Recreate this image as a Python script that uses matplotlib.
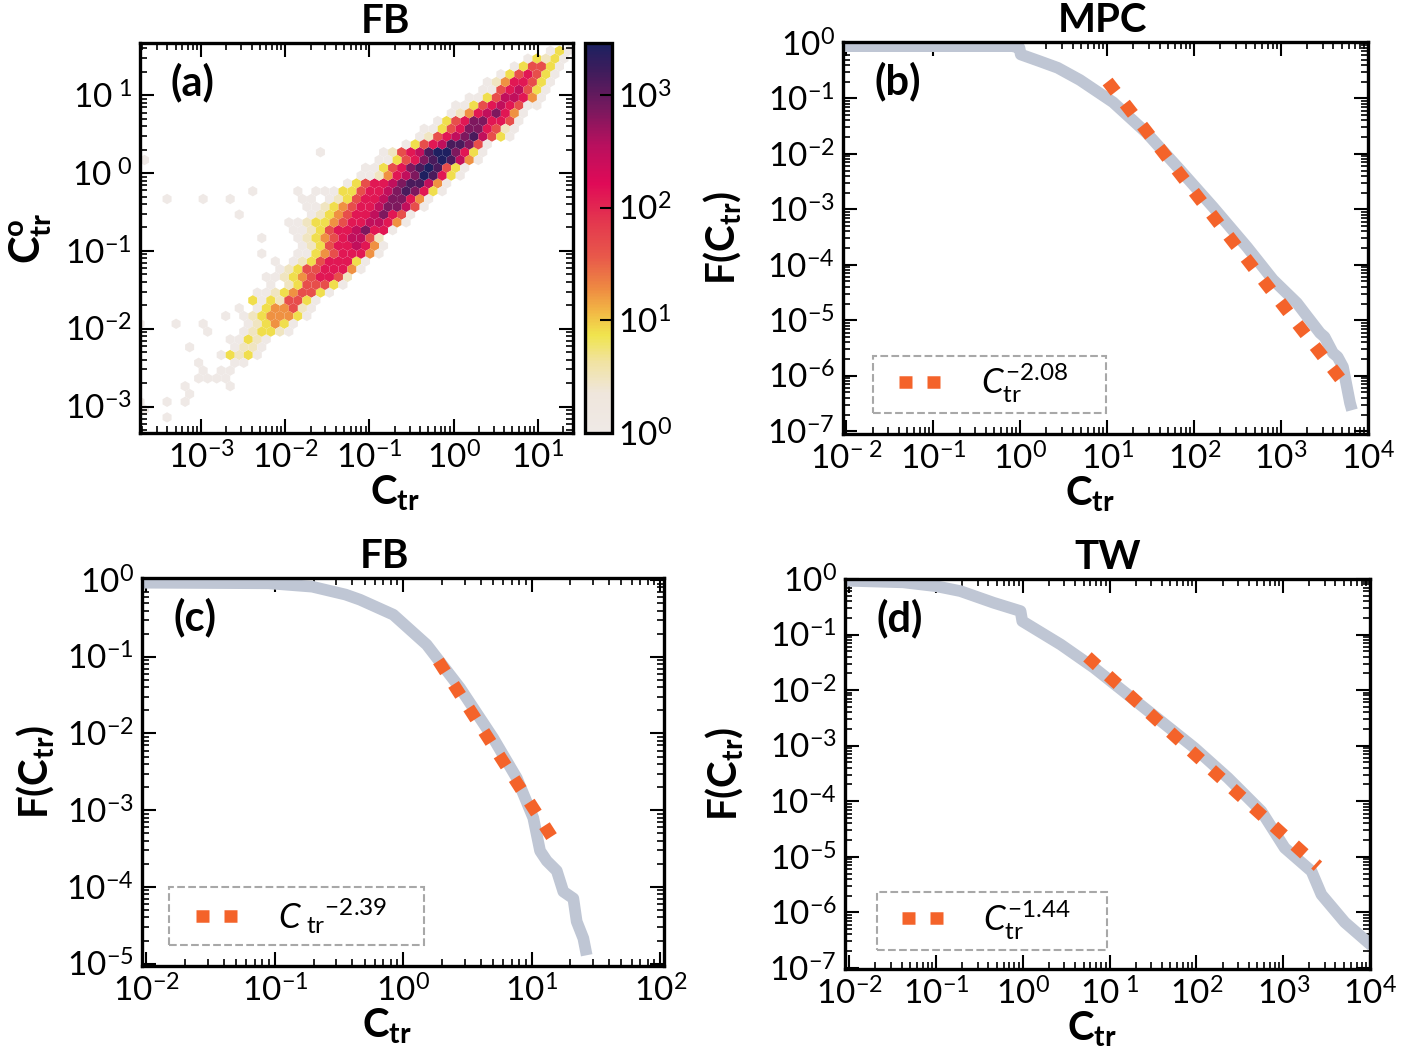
import numpy as np
import matplotlib
matplotlib.use('Agg')
import matplotlib.pyplot as plt
from matplotlib.colors import LinearSegmentedColormap, LogNorm
from matplotlib.patches import Rectangle
from matplotlib.ticker import LogLocator, FuncFormatter, NullFormatter, NullLocator

plt.rcParams['font.family'] = ['Lato', 'DejaVu Sans']
plt.rcParams['mathtext.fontset'] = 'custom'
plt.rcParams['mathtext.rm'] = 'Lato'
plt.rcParams['mathtext.it'] = 'Lato:italic'
plt.rcParams['mathtext.bf'] = 'Lato:bold'

# ---------------- data ----------------
# (a) hexbin of C_tr vs C^o_tr, read cell by cell.
# level digit -> count in the cell, '0' = empty cell
level_counts = {'1': 1, '2': 3, '3': 8, '4': 18, '5': 45, '6': 130,
                '7': 300, '8': 700, '9': 1400, 'a': 2700}
# (hex row from the bottom, first hex column, levels of consecutive cells)
hex_rows = [
    (0, 0, "1"),
    (2, 3, "1"),
    (3, 0, "1"),
    (4, 0, "100101"),
    (5, 5, "1"),
    (6, 5, "100001"),
    (7, 6, "1111"),
    (8, 7, "1011"),
    (9, 6, "100011"),
    (10, 9, "13231"),
    (11, 5, "100001221"),
    (12, 10, "11321"),
    (13, 7, "1000123321"),
    (14, 0, "100010010000123431"),
    (15, 9, "1012344431"),
    (16, 11, "101344521"),
    (17, 12, "31325531"),
    (18, 13, "112345531"),
    (19, 14, "102355531"),
    (20, 14, "1123456652"),
    (21, 15, "1235566641"),
    (22, 15, "10123566631"),
    (23, 13, "10001134566641"),
    (24, 18, "1235667641"),
    (25, 13, "10001234567752"),
    (26, 17, "112356678661"),
    (27, 16, "11233456677641"),
    (28, 11, "10000000123456678651"),
    (29, 18, "11234566788751"),
    (30, 3, "100010010000000110123566788641"),
    (31, 12, "1000010111335667898631"),
    (32, 23, "135667899741"),
    (33, 24, "1124678a9631"),
    (34, 25, "1135689a9531"),
    (35, 0, "1"),
    (35, 26, "1135689a9741"),
    (36, 20, "1000000125679aa8631"),
    (37, 29, "1356799851"),
    (38, 31, "12567897531"),
    (39, 31, "11356886521"),
    (40, 33, "1356886651"),
    (41, 34, "124678641"),
    (42, 35, "1135676511"),
    (43, 36, "113577641"),
    (44, 38, "11567531"),
    (45, 38, "12466531"),
    (46, 40, "1356531"),
    (47, 41, "135531"),
    (48, 43, "13231"),
    (49, 45, "131"),
]

# (b) MPC: CCDF (log10 values) and power-law fit ends
mpc_logc = [-2.04, -0.09, -0.01, 0.005, 0.22, 0.43, 0.686, 1.066, 1.457, 1.837, 2.217,
            2.608, 2.907, 3.183, 3.30, 3.448, 3.50, 3.597, 3.65, 3.712, 3.793, 3.816]
mpc_logf = [-0.06, -0.06, -0.09, -0.21, -0.33, -0.45, -0.67, -1.07, -1.63, -2.29, -2.96,
            -3.68, -4.27, -4.69, -4.93, -5.23, -5.30, -5.59, -5.66, -5.84, -6.49, -6.62]
mpc_fit_logc = [1.004, 3.686]
mpc_fit_logf = [-0.698, -6.062]

# (c) FB
fb_logc = [-2.035, -1.05, -0.71, -0.45, -0.337, -0.078, 0.182, 0.442, 0.70, 0.883, 1.012,
           1.065, 1.117, 1.195, 1.246, 1.324, 1.35, 1.402, 1.428]
fb_logf = [-0.035, -0.043, -0.087, -0.19, -0.257, -0.452, -0.843, -1.408, -2.06, -2.58, -3.10,
           -3.53, -3.66, -3.79, -4.06, -4.15, -4.45, -4.67, -4.89]
fb_fit_logc = [0.273, 1.157]
fb_fit_logf = [-1.054, -3.351]

# (d) TW
tw_logc = [-2.05, -1.38, -1.0, -0.72, -0.335, -0.027, -0.007, 0.436, 0.821, 1.207, 1.592,
           1.977, 2.363, 2.748, 3.017, 3.326, 3.44, 3.71, 4.02]
tw_logf = [-0.03, -0.06, -0.13, -0.218, -0.429, -0.578, -0.759, -1.18, -1.60, -2.08, -2.56,
           -3.04, -3.58, -4.18, -4.84, -5.26, -5.68, -6.18, -6.60]
tw_fit_logc = [0.744, 3.40]
tw_fit_logf = [-1.401, -5.17]

# ---------------- styles ----------------
GRAY = '#bfc6d4'
ORANGE = '#f4632a'
cmap = LinearSegmentedColormap.from_list('heat', [
    (0.00, '#efe9e6'), (0.10, '#efe6dc'), (0.18, '#f1e3a2'), (0.25, '#f0e44e'),
    (0.31, '#f2b845'), (0.37, '#ee8a42'), (0.45, '#e8594a'), (0.55, '#e3344f'),
    (0.64, '#e00a57'), (0.74, '#b8105e'), (0.84, '#73195e'), (0.93, '#3e1c5c'),
    (1.00, '#1b2160')])

fig = plt.figure(figsize=(14.01, 10.52), dpi=100)
W, H = 1401, 1052


def box(l, r, t, b):
    return [l / W, 1 - b / H, (r - l) / W, (b - t) / H]


ax_a = fig.add_axes(box(140, 573, 43, 433))
cax = fig.add_axes(box(585, 612, 43, 433))
ax_b = fig.add_axes(box(843, 1368, 42, 434))
ax_c = fig.add_axes(box(142, 664, 578, 966))
ax_d = fig.add_axes(box(845, 1370, 579, 969))


def fmt_plain(v, pos):
    e = int(round(np.log10(v)))
    return r'$10^{%d}$' % e


def fmt_a_y(v, pos):
    e = int(round(np.log10(v)))
    if e >= 0:
        return r'$10^{\ %d}$' % e
    return r'$10^{%d}$' % e


def fmt_b_x(v, pos):
    e = int(round(np.log10(v)))
    if e == -2:
        return r'$10^{-\ 2}$'
    return r'$10^{%d}$' % e


def fmt_d_x(v, pos):
    e = int(round(np.log10(v)))
    if e == 1:
        return r'$10^{\ 1}$'
    return r'$10^{%d}$' % e


def style(ax, xfmt=fmt_plain, yfmt=fmt_plain):
    for ax_ in (ax.xaxis, ax.yaxis):
        ax_.set_major_locator(LogLocator(base=10, numticks=20))
        ax_.set_minor_locator(LogLocator(base=10, subs=np.arange(2, 10), numticks=20))
        ax_.set_minor_formatter(NullFormatter())
    ax.xaxis.set_major_formatter(FuncFormatter(xfmt))
    ax.yaxis.set_major_formatter(FuncFormatter(yfmt))
    ax.tick_params(which='both', direction='in', top=True, right=True, labelsize=24)
    ax.tick_params(which='major', length=10, width=1.5, pad=6)
    ax.tick_params(which='minor', length=5, width=1.2)
    for s in ax.spines.values():
        s.set_linewidth(2.4)


# ---------------- (a) hexbin ----------------
X0, X1, Y0, Y1 = -3.724, 1.418, -3.34, 1.672
NX, NY = 48, 25
SX = (X1 - X0) / NX
SY = (Y1 - Y0) / NY
hx, hy, hc = [], [], []
for k, i0, levels in hex_rows:
    for n, ch in enumerate(levels):
        if ch == '0':
            continue
        i = i0 + n
        hx.append(10 ** (X0 + (i + 0.5 * (k % 2)) * SX))
        hy.append(10 ** (Y0 + k * SY / 2))
        hc.append(level_counts[ch])

hb = ax_a.hexbin(hx, hy, C=hc, reduce_C_function=np.sum, gridsize=(NX, NY),
                 xscale='log', yscale='log', extent=(X0, X1, Y0, Y1),
                 cmap=cmap, norm=LogNorm(vmin=1, vmax=2900), linewidths=0)
ax_a.set_xlim(10 ** X0, 10 ** X1)
ax_a.set_ylim(10 ** Y0, 10 ** Y1)
style(ax_a, yfmt=fmt_a_y)
ax_a.set_title('FB', fontsize=29, fontweight='bold', x=0.566, pad=7)
ax_a.set_xlabel(r'$\mathbf{C_{tr}}$', fontsize=29)
ax_a.set_ylabel(r'$\mathbf{C^{o}_{tr}}$', fontsize=30)
ax_a.xaxis.set_label_coords(0.59, -0.105)
ax_a.yaxis.set_label_coords(-0.2, 0.5)
ax_a.text(0.07, 0.95, '(a)', transform=ax_a.transAxes, fontsize=30,
          fontweight='bold', va='top', ha='left')

cb = fig.colorbar(hb, cax=cax)
cb.set_ticks([1, 10, 100, 1000])
cb.ax.yaxis.set_major_formatter(FuncFormatter(fmt_plain))
cb.ax.yaxis.set_minor_locator(NullLocator())
cb.ax.tick_params(direction='in', length=9, width=1.5, labelsize=24, pad=4)
cb.outline.set_linewidth(2.4)


# ---------------- CCDF panels ----------------
def ccdf_panel(ax, logc, logf, fit_c, fit_f, expo_label, title, letter,
               xlim, ylim, title_x, xfmt, frame_box, leg_anchor, ylab_x):
    ax.plot(10 ** np.array(logc), 10 ** np.array(logf), color=GRAY, lw=8.4,
            solid_capstyle='butt', solid_joinstyle='round', zorder=2)
    ax.plot(10 ** np.array(fit_c), 10 ** np.array(fit_f), color=ORANGE, lw=9,
            dashes=(1.04, 1.2), dash_capstyle='butt', label=expo_label, zorder=3)
    ax.set_xscale('log')
    ax.set_yscale('log')
    ax.set_xlim(*xlim)
    ax.set_ylim(*ylim)
    style(ax, xfmt=xfmt)
    ax.set_title(title, fontsize=29, fontweight='bold', x=title_x, pad=7)
    ax.set_xlabel(r'$\mathbf{C_{tr}}$', fontsize=29)
    ax.set_ylabel(r'$\mathbf{F(C_{tr})}$', fontsize=29)
    ax.xaxis.set_label_coords(0.47, -0.105)
    ax.yaxis.set_label_coords(ylab_x, 0.5)
    ax.text(0.06, 0.95, letter, transform=ax.transAxes, fontsize=30,
            fontweight='bold', va='top', ha='left')
    ax.add_patch(Rectangle(frame_box[:2], frame_box[2], frame_box[3],
                           transform=ax.transAxes, fill=False, edgecolor='#a8a8a8',
                           linestyle='--', linewidth=1.5, zorder=4))
    ax.legend(loc='center left', bbox_to_anchor=leg_anchor, borderaxespad=0,
              fontsize=25, handlelength=1.3, handletextpad=1.05,
              borderpad=0, frameon=False)


ccdf_panel(ax_b, mpc_logc, mpc_logf, mpc_fit_logc, mpc_fit_logf,
           r'$C_{\rm tr}^{-2.08}$', 'MPC', '(b)',
           (10 ** -2.04, 10 ** 4.0), (10 ** -7.05, 10 ** 0.015), 0.494,
           fmt_b_x, (0.057, 0.054, 0.443, 0.145), (0.1075, 0.128), -0.19)
ccdf_panel(ax_c, fb_logc, fb_logf, fb_fit_logc, fb_fit_logf,
           r'$C_{\ \rm tr}{}^{-2.39}$', 'FB', '(c)',
           (10 ** -2.035, 10 ** 2.03), (10 ** -5.03, 10 ** 0.026), 0.464,
           fmt_plain, (0.052, 0.054, 0.488, 0.149), (0.1034, 0.129), -0.165)
ccdf_panel(ax_d, tw_logc, tw_logf, tw_fit_logc, tw_fit_logf,
           r'$C_{\rm tr}^{-1.44}$', 'TW', '(d)',
           (10 ** -2.05, 10 ** 4.0), (10 ** -7.02, 10 ** 0.0), 0.50,
           fmt_d_x, (0.061, 0.049, 0.4375, 0.149), (0.108, 0.1256), -0.19)

fig.savefig('out.png', dpi=100)
